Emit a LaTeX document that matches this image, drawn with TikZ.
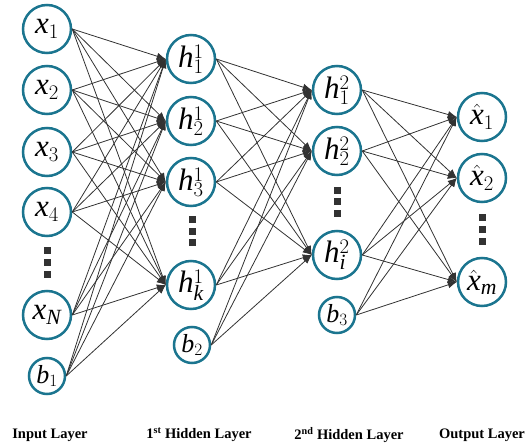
\documentclass[tikz,border=0pt]{standalone}
\usepackage{fontspec}
\setmainfont{Liberation Serif}
\usetikzlibrary{arrows.meta}
\definecolor{bordo}{RGB}{27,117,143}
\definecolor{freccia}{RGB}{50,50,50}
\def\xin#1{$\mathit{x}_{#1}$}
\def\hid#1#2{$\mathit{h}^{#1}_{#2}$}
\def\xout#1{$\hat{\mathit{x}}_{#1}$}
\def\bias#1{$\mathit{b}_{#1}$}

\begin{document}
\begin{tikzpicture}[x=1pt,y=-1pt,
   neu/.style={circle,draw=bordo,line width=2.5pt,minimum size=48pt,inner sep=0pt,
      font=\fontsize{31}{33}\selectfont},
   bia/.style={circle,draw=bordo,line width=2.5pt,minimum size=36pt,inner sep=0pt,
      font=\fontsize{26}{28}\selectfont},
   punto/.style={fill=freccia,minimum size=7pt,inner sep=0pt},
   arco/.style={draw=freccia,line width=0.8pt,-{Latex[length=9pt,width=7pt]}},
   strato/.style={font=\fontsize{14.5}{16}\selectfont\bfseries}]
   \useasboundingbox (0,0) rectangle (525,446);
% strato di ingresso
   \node[neu] (x1) at (47,29) {\xin{1}};
   \node[neu] (x2) at (47,90) {\xin{2}};
   \node[neu] (x3) at (47,152) {\xin{3}};
   \node[neu] (x4) at (47,212) {\xin{4}};
   \node[neu] (xN) at (47,315) {\xin{\mathit{N}}};
   \node[bia] (b1) at (47,376) {\bias{1}};
% primo strato nascosto
   \node[neu] (h11) at (191,59) {\hid{1}{1}};
   \node[neu] (h12) at (191,121) {\hid{1}{2}};
   \node[neu] (h13) at (191,182) {\hid{1}{3}};
   \node[neu] (h1k) at (191,285) {\hid{1}{\mathit{k}}};
   \node[bia] (b2) at (192,345) {\bias{2}};
% secondo strato nascosto
   \node[neu] (h21) at (337,90) {\hid{2}{1}};
   \node[neu] (h22) at (337,151) {\hid{2}{2}};
   \node[neu] (h2i) at (337,255) {\hid{2}{\mathit{i}}};
   \node[bia] (b3) at (337,315) {\bias{3}};
% strato di uscita
   \node[neu] (o1) at (482,117) {\xout{1}};
   \node[neu] (o2) at (482,178) {\xout{2}};
   \node[neu] (om) at (482,282) {\xout{\mathit{m}}};
% puntini
   \node[punto] (pa1) at (47,251) {}; \node[punto] (pa2) at (47,263) {};
   \node[punto] (pa3) at (47,275) {};
   \node[punto] (pb1) at (192,220) {}; \node[punto] (pb2) at (192,232) {};
   \node[punto] (pb3) at (192,243) {};
   \node[punto] (pc1) at (337,191) {}; \node[punto] (pc2) at (337,202) {};
   \node[punto] (pc3) at (337,214) {};
   \node[punto] (pd1) at (482,218) {}; \node[punto] (pd2) at (482,230) {};
   \node[punto] (pd3) at (482,242) {};
% connessioni
   \foreach \a in {x1,x2,x3,x4,xN,b1} \foreach \b in {h11,h12,h13,h1k}
      \draw[arco] (\a.east) -- (\b.west);
   \foreach \a in {h11,h12,h13,h1k,b2} \foreach \b in {h21,h22,h2i}
      \draw[arco] (\a.east) -- (\b.west);
   \foreach \a in {h21,h22,h2i,b3} \foreach \b in {o1,o2,om}
      \draw[arco] (\a.east) -- (\b.west);
% nomi degli strati
   \node[strato] (sIn) at (50,435) {Input Layer};
   \node[strato] (sH1) at (199,435) {1\textsuperscript{st} Hidden Layer};
   \node[strato] (sH2) at (349,435) {2\textsuperscript{nd} Hidden Layer};
   \node[strato] (sOut) at (482,435) {Output Layer};
\end{tikzpicture}
\end{document}
